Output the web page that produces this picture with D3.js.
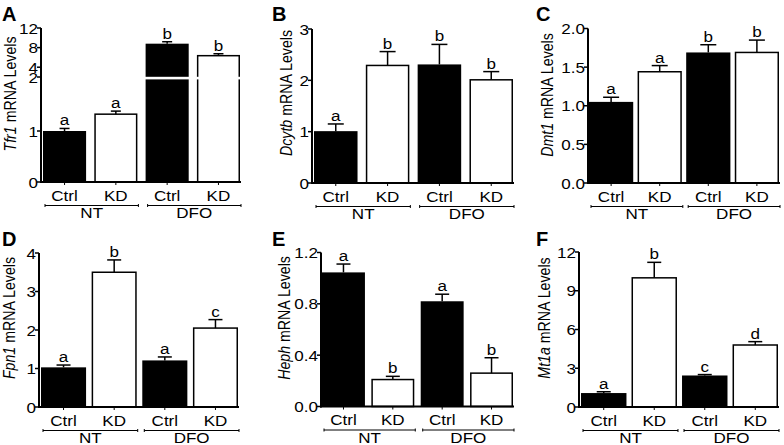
<!DOCTYPE html>
<html><head><meta charset="utf-8">
<script src="https://cdn.jsdelivr.net/npm/d3@7"></script>
<style>
html,body{margin:0;padding:0;background:#fff;}
svg{display:block;font-family:"Liberation Sans",Arial,sans-serif;}
</style></head>
<body>
<svg id="chart" width="784" height="445"></svg>
<script>
// ---- data ----
const categories = ["Ctrl", "KD", "Ctrl", "KD"];
const groups = ["NT", "DFO"];
const fills = ["black", "white", "black", "white"];

const tfr1Mean  = [1.0, 1.33, 8.8, 6.35];
const tfr1Err   = [0.05, 0.06, 0.4, 0.4];
const tfr1Sig   = ["a", "a", "b", "b"];

const dcytbMean = [1.01, 2.29, 2.31, 2.01];
const dcytbErr  = [0.14, 0.27, 0.39, 0.16];
const dcytbSig  = ["a", "b", "b", "b"];

const dmt1Mean  = [1.05, 1.44, 1.69, 1.69];
const dmt1Err   = [0.06, 0.08, 0.10, 0.16];
const dmt1Sig   = ["a", "a", "b", "b"];

const fpn1Mean  = [1.03, 3.50, 1.21, 2.05];
const fpn1Err   = [0.06, 0.32, 0.09, 0.22];
const fpn1Sig   = ["a", "b", "a", "c"];

const hephMean  = [1.045, 0.21, 0.82, 0.26];
const hephErr   = [0.065, 0.025, 0.055, 0.12];
const hephSig   = ["a", "b", "a", "b"];

const mt1aMean  = [1.08, 10.0, 2.44, 4.8];
const mt1aErr   = [0.1, 1.2, 0.07, 0.26];
const mt1aSig   = ["a", "b", "c", "d"];

const tfr1TicksLow  = [0, 1];
const tfr1TicksHigh = [2, 4, 8, 12];
const dcytbTicks = [0, 1, 2, 3];
const dmt1Ticks  = [0, 0.5, 1.0, 1.5, 2.0];
const fpn1Ticks  = [0, 1, 2, 3, 4];
const hephTicks  = [0, 0.4, 0.8, 1.2];
const mt1aTicks  = [0, 3, 6, 9, 12];

// ---- layout ----
const panels = [
  {letter:"A", gene:"Tfr1",  mean:tfr1Mean,  err:tfr1Err,  sig:tfr1Sig,  ticks:null, fmt:d3.format("d"),
   ax:41,  x0:43,  x1:240, pad:0.16, y0:182, y1:28, lx:2,   ly:21, tx:10, ty:94, cap:10, broken:true},
  {letter:"B", gene:"Dcytb", mean:dcytbMean, err:dcytbErr, sig:dcytbSig, ticks:dcytbTicks, fmt:d3.format("d"), max:3,
   ax:312, x0:314, x1:513, pad:0.16, y0:183, y1:29, lx:272, ly:21, tx:286, ty:93, cap:16},
  {letter:"C", gene:"Dmt1",  mean:dmt1Mean,  err:dmt1Err,  sig:dmt1Sig,  ticks:dmt1Ticks, fmt:d3.format(".1f"), max:2,
   ax:588, x0:589, x1:779, pad:0.09, y0:183, y1:28.5, lx:536, ly:21, tx:547, ty:95, cap:16},
  {letter:"D", gene:"Fpn1",  mean:fpn1Mean,  err:fpn1Err,  sig:fpn1Sig,  ticks:fpn1Ticks, fmt:d3.format("d"), max:4,
   ax:39,  x0:41,  x1:238, pad:0.11, y0:407, y1:253, lx:2,   ly:246, tx:9,  ty:318, cap:14},
  {letter:"E", gene:"Heph",  mean:hephMean,  err:hephErr,  sig:hephSig,  ticks:hephTicks, fmt:d3.format(".1f"), max:1.2,
   ax:321, x0:322, x1:513, pad:0.13, y0:406.5, y1:252.5, lx:272, ly:246, tx:284, ty:318, cap:14},
  {letter:"F", gene:"Mt1a",  mean:mt1aMean,  err:mt1aErr,  sig:mt1aSig,  ticks:mt1aTicks, fmt:d3.format("d"), max:12,
   ax:579, x0:581, x1:778, pad:0.1, y0:407, y1:252, lx:536, ly:246, tx:544, ty:318, cap:14}
];

const FS = 15.5, SX = 1.1;
function label(g, x, y, str, anchor, dy) {
  return g.append("text")
    .attr("transform", `translate(${x},${y}) scale(${SX},1)`)
    .attr("text-anchor", anchor).attr("dy", dy || null)
    .attr("font-size", FS).text(str);
}

const svg = d3.select("#chart");

panels.forEach(p => {
  const g = svg.append("g");
  const x = d3.scaleBand().domain(d3.range(categories.length)).range([p.x0, p.x1])
              .paddingInner(p.pad).paddingOuter(0);
  const bw = x.bandwidth();

  let y, yAxisGroups = [];
  if (p.broken) {
    const yLow = d3.scaleLinear().domain([0, 2]).range([p.y0, 80]);
    const yHigh = d3.scaleLinear().domain([2, 12]).range([77, p.y1]);
    y = v => v <= 2 ? yLow(v) : yHigh(v);
    yAxisGroups = [{s:yLow, t:tfr1TicksLow}, {s:yHigh, t:tfr1TicksHigh}];
  } else {
    const ys = d3.scaleLinear().domain([0, p.max]).range([p.y0, p.y1]);
    y = ys;
    yAxisGroups = [{s:ys, t:p.ticks}];
  }

  // bars
  p.mean.forEach((m, i) => {
    const top = y(m);
    g.append("rect")
      .attr("x", x(i) + (fills[i] === "white" ? 0.75 : 0))
      .attr("y", top)
      .attr("width", bw - (fills[i] === "white" ? 1.5 : 0))
      .attr("height", p.y0 - top)
      .attr("fill", fills[i])
      .attr("stroke", fills[i] === "white" ? "black" : "none")
      .attr("stroke-width", 1.5);
    const et = y(m + p.err[i]);
    const cx = x(i) + bw / 2;
    g.append("line").attr("x1", cx).attr("x2", cx).attr("y1", top).attr("y2", et)
      .attr("stroke", "black").attr("stroke-width", 1.5);
    g.append("line").attr("x1", cx - p.cap/2).attr("x2", cx + p.cap/2).attr("y1", et).attr("y2", et)
      .attr("stroke", "black").attr("stroke-width", 1.5);
    label(g, cx, et - 3, p.sig[i], "middle");
  });

  if (p.broken) {
    g.append("rect").attr("x", p.ax + 1).attr("y", 76.8).attr("width", p.x1 - p.ax + 2).attr("height", 2.6)
      .attr("fill", "white");
  }

  // y axis
  g.append("line").attr("x1", p.ax).attr("x2", p.ax).attr("y1", p.y1).attr("y2", p.y0 + 1)
    .attr("stroke", "black").attr("stroke-width", 2);
  yAxisGroups.forEach(ag => {
    ag.t.forEach(t => {
      const yy = ag.s(t);
      g.append("line").attr("x1", p.ax - 4).attr("x2", p.ax).attr("y1", yy).attr("y2", yy)
        .attr("stroke", "black").attr("stroke-width", 1.5);
      label(g, p.ax - 3, yy, p.fmt(t), "end", "0.36em");
    });
  });

  // x axis
  g.append("line").attr("x1", p.ax - 1).attr("x2", p.x1 + 1).attr("y1", p.y0).attr("y2", p.y0)
    .attr("stroke", "black").attr("stroke-width", 2);
  categories.forEach((c, i) => {
    const cx = x(i) + bw / 2;
    g.append("line").attr("x1", cx).attr("x2", cx).attr("y1", p.y0).attr("y2", p.y0 + 3)
      .attr("stroke", "black").attr("stroke-width", 1);
    label(g, cx, p.y0 + 18.5, c, "middle");
  });

  // group brackets
  groups.forEach((gr, k) => {
    const a = x(2 * k) + 2, b = x(2 * k + 1) + bw + 1;
    const by = p.y0 + 23.5;
    g.append("line").attr("x1", a).attr("x2", b).attr("y1", by).attr("y2", by)
      .attr("stroke", "black").attr("stroke-width", 1);
    [a, b].forEach(e => g.append("line").attr("x1", e).attr("x2", e).attr("y1", by - 1.5).attr("y2", by + 1.5)
      .attr("stroke", "black").attr("stroke-width", 1));
    label(g, (a + b) / 2, p.y0 + 36, gr, "middle");
  });

  // y title
  const t = g.append("text").attr("transform", `translate(${p.tx},${p.ty}) rotate(-90) scale(1,1.1)`)
    .attr("text-anchor", "middle").attr("dy", "0.36em").attr("font-size", 14.2);
  t.append("tspan").attr("font-style", "italic").text(p.gene);
  t.append("tspan").text(" mRNA Levels");

  // panel letter
  g.append("text").attr("x", p.lx).attr("y", p.ly).attr("font-size", 20).attr("font-weight", "bold")
    .text(p.letter);
});
</script>
</body></html>
